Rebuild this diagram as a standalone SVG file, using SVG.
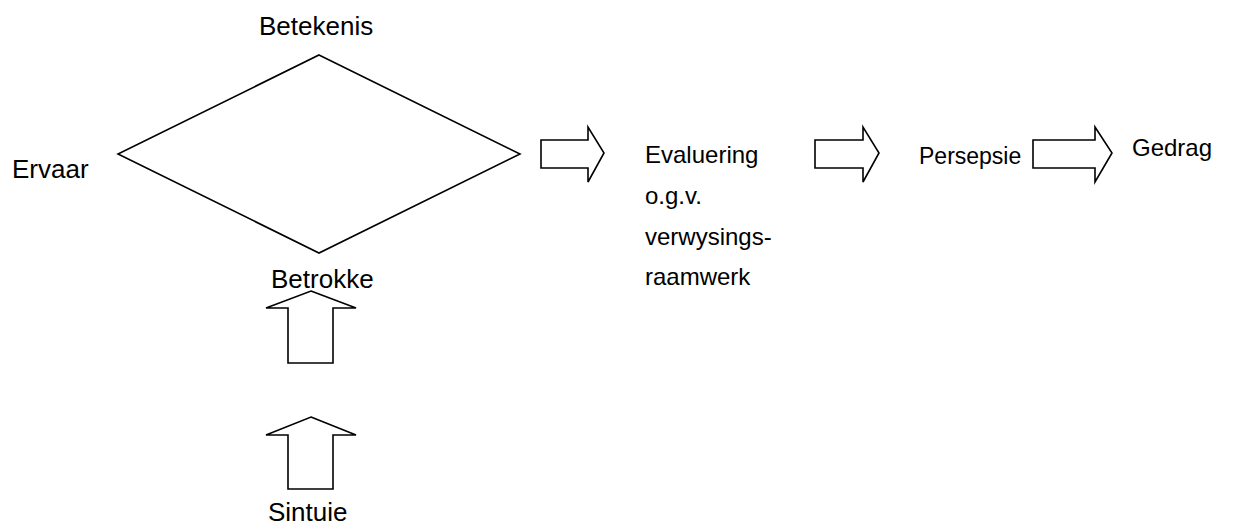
<svg xmlns="http://www.w3.org/2000/svg" width="1237" height="526" viewBox="0 0 1237 526">
<style>
.shape{fill:#fff;stroke:#000;stroke-width:1.6;stroke-linejoin:miter}
text{font-family:"Liberation Sans",Arial,sans-serif;font-size:26px;fill:#000}
.r{font-size:24px}
</style>
<rect width="1237" height="526" fill="#fff"/>
<g id="diamond">
<polygon class="shape" points="319,55 520,154 319,253 118,154"/>
</g>
<g id="betekenis"><text x="259" y="35">Betekenis</text></g>
<g id="ervaar"><text x="12" y="178">Ervaar</text></g>
<g id="betrokke"><text x="271" y="288">Betrokke</text></g>
<g id="evaluering">
<text class="r" x="645" y="163">Evaluering</text>
<text class="r" x="645" y="204">o.g.v.</text>
<text class="r" x="645" y="245">verwysings-</text>
<text class="r" x="645" y="285">raamwerk</text>
</g>
<g id="persepsie"><text class="r" x="919" y="164" style="font-size:23px">Persepsie</text></g>
<g id="gedrag"><text class="r" x="1132" y="156">Gedrag</text></g>
<g id="sintuie"><text x="268" y="521">Sintuie</text></g>
<g id="connectors">
<polygon class="shape" points="541,140 588,140 588,127 604,153 588,182 588,168 541,168"/>
<polygon class="shape" points="815,140 863,140 863,127 879,153 863,182 863,168 815,168"/>
<polygon class="shape" points="1033,140 1095,140 1095,127 1112,153 1095,182 1095,168 1033,168"/>
<polygon class="shape" points="311,291 356,308 333,308 333,363 288,363 288,308 266,308"/>
<polygon class="shape" points="311,417 356,435 333,435 333,489 288,489 288,435 266,435"/>
</g>
</svg>
